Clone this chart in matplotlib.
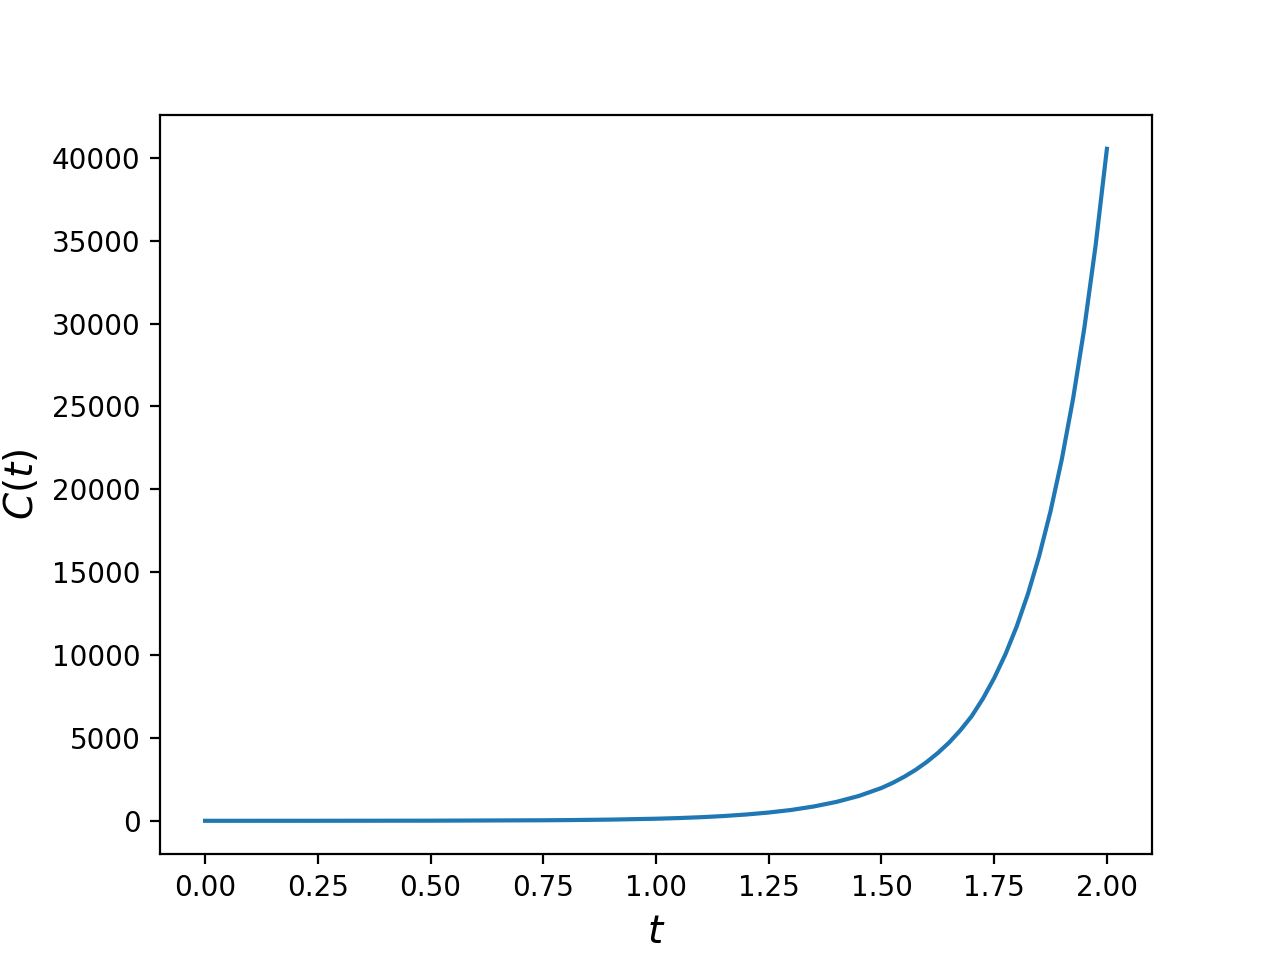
import matplotlib
matplotlib.use("Agg")
import matplotlib.pyplot as plt

# Values
t_values = [0.0, 0.25, 0.5, 0.75, 0.8, 0.9, 1.0, 1.05, 1.1, 1.15, 1.2, 1.25, 1.3,
            1.35, 1.4, 1.45, 1.5, 1.525, 1.55, 1.575, 1.6, 1.625, 1.65, 1.675,
            1.7, 1.725, 1.75, 1.775, 1.8, 1.825, 1.85, 1.875, 1.9, 1.925, 1.95,
            1.975, 2.0]
c_values = [0.5, 2, 8, 32, 42, 73, 126, 165, 218, 288, 380, 500, 655,
            865, 1140, 1500, 1980, 2290, 2650, 3060, 3540, 4090, 4720, 5460,
            6310, 7370, 8610, 10050, 11730, 13700, 16000, 18680, 21810, 25470, 29740,
            34720, 40540]

fig, ax = plt.subplots(figsize=(6.4, 4.8), dpi=200)
ax.plot(t_values, c_values, color="#1f77b4", linewidth=1.5)
ax.set_xlabel("$t$", fontsize=14)
ax.set_ylabel("$C(t)$", fontsize=14)
fig.savefig("out.png", dpi=200)
